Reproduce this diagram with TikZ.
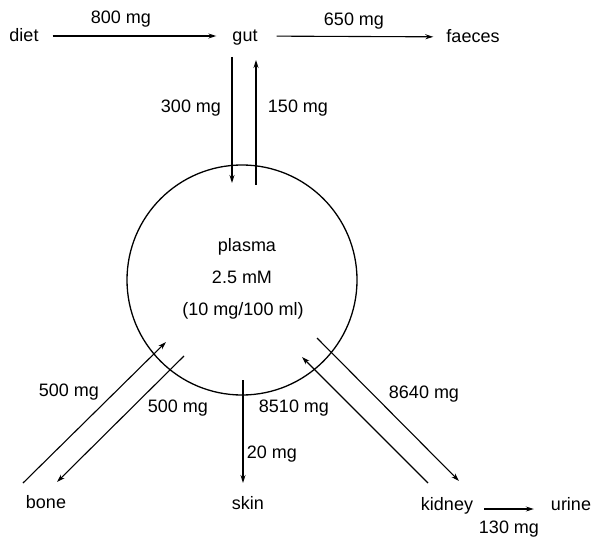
\documentclass[tikz,border=0pt]{standalone}
\usepackage{fontspec}
\setmainfont{Liberation Sans}
\usetikzlibrary{arrows.meta}
\begin{document}
\begin{tikzpicture}[x=1bp,y=-1bp,
  lbl/.style={font=\fontsize{18bp}{20bp}\selectfont, inner sep=2bp, text height=12bp, text depth=0bp},
  arr/.style={line width=1.1bp, -{Stealth[length=8bp,width=5bp]}},
  ring/.style={circle, draw, line width=1.3bp, minimum size=230bp, inner sep=0pt}]
\useasboundingbox (0,0) rectangle (596,537);
% plasma compartment
\node[ring] (pl) at (242,280) {};
\node[lbl] (plt) at (247,245) {plasma};
\node[lbl] (plc) at (242,277) {2.5 mM};
\node[lbl] (plm) at (243,309) {(10 mg/100 ml)};
% top row
\node[lbl] (diet) at (24,36) {diet};
\node[lbl] (gut) at (245,36) {gut};
\node[lbl] (faeces) at (473,37) {faeces};
\draw[arr, shorten <=12bp, shorten >=14bp] (diet) -- (gut);
\draw[arr, shorten <=17bp, shorten >=11bp] (gut) -- (faeces);
\node[lbl] (l800) at (121,18) {800 mg};
\node[lbl] (l650) at (354,20) {650 mg};
% gut <-> plasma
\coordinate (gd1) at (232,57);
\coordinate (gd2) at (232,183);
\coordinate (gu1) at (256,185);
\coordinate (gu2) at (256,60);
\draw[arr] (gd1) -- (gd2);
\draw[arr] (gu1) -- (gu2);
\node[lbl] (l300) at (191,107) {300 mg};
\node[lbl] (l150) at (298,107) {150 mg};
% bone
\node[lbl] (bone) at (46,502) {bone};
\coordinate (b1) at (23,483);
\coordinate (b2) at (166,342);
\coordinate (b3) at (184,356);
\coordinate (b4) at (57,482);
\draw[arr] (b1) -- (b2);
\draw[arr] (b3) -- (b4);
\node[lbl] (l500a) at (69,390) {500 mg};
\node[lbl] (l500b) at (178,406) {500 mg};
% skin
\node[lbl] (skin) at (248,503) {skin};
\coordinate (s1) at (243,380);
\coordinate (s2) at (243,483);
\draw[arr] (s1) -- (s2);
\node[lbl] (l20) at (272,452) {20 mg};
% kidney
\node[lbl] (kidney) at (447,504) {kidney};
\node[lbl] (urine) at (571,504) {urine};
\coordinate (k1) at (428,483);
\coordinate (k2) at (302,357);
\coordinate (k3) at (317,338);
\coordinate (k4) at (459,481);
\draw[arr] (k1) -- (k2);
\draw[arr] (k3) -- (k4);
\node[lbl] (l8510) at (294,406) {8510 mg};
\node[lbl] (l8640) at (424,392) {8640 mg};
\draw[arr, shorten <=9bp, shorten >=15bp] ([yshift=-5bp]kidney.east) -- ([yshift=-5bp]urine.west);
\node[lbl] (l130) at (509,527) {130 mg};
\end{tikzpicture}
\end{document}
